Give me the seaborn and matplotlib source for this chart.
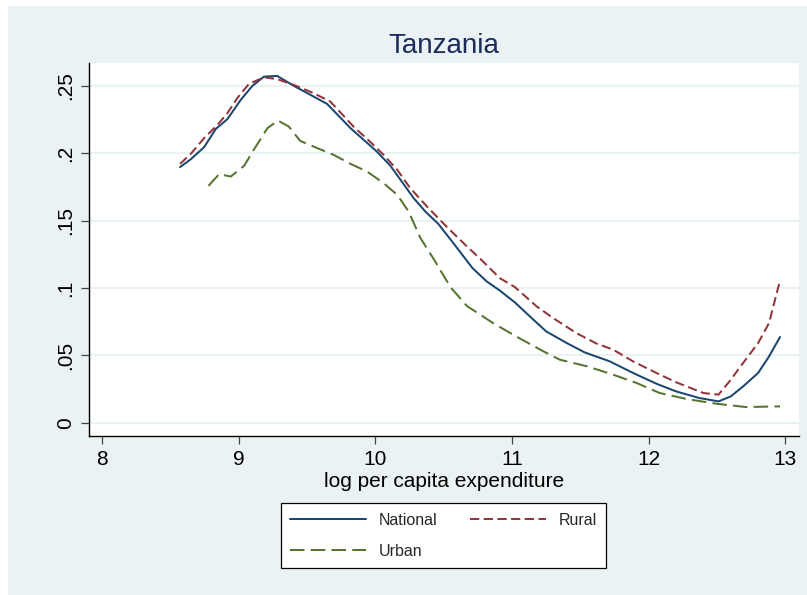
import matplotlib
matplotlib.use("Agg")
import matplotlib.pyplot as plt
from matplotlib.patches import Rectangle
import seaborn as sns
import pandas as pd

# ---- data ----
national_x = [8.571, 8.65, 8.747, 8.832, 8.917, 9.015, 9.10, 9.185, 9.282, 9.404, 9.526, 9.647,
              9.732, 9.818, 9.915, 10.01, 10.11, 10.21, 10.28, 10.365, 10.46, 10.57, 10.71,
              10.815, 10.91, 11.02, 11.13, 11.25, 11.40, 11.53, 11.715, 11.885, 12.056, 12.20,
              12.37, 12.51, 12.60, 12.69, 12.80, 12.88, 12.96]
national_y = [0.1897, 0.1956, 0.2045, 0.218, 0.2253, 0.2396, 0.25, 0.2569, 0.2574, 0.25, 0.2433,
              0.2366, 0.2277, 0.2186, 0.2099, 0.2013, 0.1907, 0.1766, 0.1667, 0.1568, 0.1476,
              0.1333, 0.1148, 0.1048, 0.0981, 0.0893, 0.0789, 0.0677, 0.0591, 0.0522, 0.0455,
              0.0369, 0.0289, 0.0232, 0.0183, 0.0158, 0.0195, 0.0269, 0.0369, 0.0492, 0.0636]

rural_x = [8.571, 8.65, 8.747, 8.845, 8.917, 8.99, 9.075, 9.185, 9.282, 9.404, 9.55, 9.67, 9.745,
           9.84, 9.96, 10.06, 10.16, 10.255, 10.377, 10.52, 10.67, 10.77, 10.91, 11.02, 11.18,
           11.30, 11.47, 11.62, 11.74, 11.885, 12.056, 12.20, 12.40, 12.51, 12.59, 12.69, 12.80,
           12.88, 12.96]
rural_y = [0.1921, 0.1996, 0.2112, 0.2211, 0.2297, 0.2409, 0.2515, 0.2564, 0.255, 0.2507, 0.2445,
           0.2384, 0.2302, 0.2198, 0.2087, 0.1988, 0.1877, 0.1741, 0.1605, 0.1456, 0.1308, 0.1214,
           0.1073, 0.1007, 0.0863, 0.0777, 0.0665, 0.0586, 0.0542, 0.0455, 0.0369, 0.030, 0.022,
           0.0208, 0.0306, 0.0443, 0.0591, 0.074, 0.1056]

urban_x = [8.779, 8.857, 8.942, 9.04, 9.11, 9.21, 9.287, 9.367, 9.45, 9.575, 9.695, 9.818, 9.94,
           10.06, 10.16, 10.243, 10.33, 10.43, 10.55, 10.67, 10.86, 11.03, 11.23, 11.35, 11.55,
           11.74, 11.91, 12.08, 12.275, 12.49, 12.71, 12.96]
urban_y = [0.1758, 0.1845, 0.1827, 0.1907, 0.2025, 0.2186, 0.2243, 0.2198, 0.2092, 0.2038, 0.1988,
           0.1921, 0.1864, 0.1778, 0.1691, 0.1568, 0.1370, 0.1209, 0.1005, 0.0866, 0.074, 0.064,
           0.0529, 0.0467, 0.0418, 0.0356, 0.0295, 0.022, 0.0176, 0.0141, 0.0116, 0.0121]

series_names = ["National", "Rural", "Urban"]
x_ticks = [8, 9, 10, 11, 12, 13]
y_ticks = [0, 0.05, 0.10, 0.15, 0.20, 0.25]
y_tick_labels = ["0", ".05", ".1", ".15", ".2", ".25"]
title_text = "Tanzania"
x_label = "log per capita expenditure"

df = pd.concat([
    pd.DataFrame({"x": national_x, "y": national_y, "group": "National"}),
    pd.DataFrame({"x": rural_x, "y": rural_y, "group": "Rural"}),
    pd.DataFrame({"x": urban_x, "y": urban_y, "group": "Urban"}),
], ignore_index=True)

# ---- style ----
sns.set_theme(style="white")
plt.rcParams["font.family"] = ["Liberation Sans", "DejaVu Sans"]

BG = "#EAF2F3"
colors = {"National": "#1A476F", "Rural": "#90353B", "Urban": "#55752F"}
dashes = {"National": "", "Rural": (4.6, 2.2), "Urban": (7.2, 3.1)}

W, H = 807, 595
fig = plt.figure(figsize=(W / 100, H / 100), dpi=100, facecolor="white")
fig.patches.append(Rectangle((8 / W, 0), 1 - 8 / W, (H - 6) / H, transform=fig.transFigure,
                             facecolor=BG, edgecolor="none", zorder=-10))

ax = fig.add_axes([89 / W, (H - 436) / H, 710 / W, 373 / H])
ax.set_facecolor("white")

sns.lineplot(data=df, x="x", y="y", hue="group", style="group", hue_order=series_names,
             style_order=series_names, palette=colors, dashes=dashes, linewidth=1.45,
             sort=True, estimator=None, ax=ax)

ax.set_xlim(7.905, 13.099)
ax.set_ylim(-0.0099, 0.267)
ax.set_xticks(x_ticks)
ax.set_xticklabels([str(t) for t in x_ticks])
ax.set_yticks(y_ticks)
ax.set_yticklabels(y_tick_labels, rotation=90, va="center")

for yt in y_ticks:
    ax.axhline(yt, color=BG, lw=1.6, zorder=0)

for s in ["top", "right"]:
    ax.spines[s].set_visible(False)
for s in ["left", "bottom"]:
    ax.spines[s].set_color("black")
    ax.spines[s].set_linewidth(1.0)

ax.tick_params(axis="both", direction="out", length=6, width=0.9, color="#444444",
               labelsize=15, labelcolor="black", pad=4, left=True, bottom=True)

ax.set_xlabel(x_label, fontsize=15, color="black", labelpad=2)
ax.set_ylabel("")
ax.set_title(title_text, fontsize=20, color="#1C2D5C", pad=7)

handles, labels = ax.get_legend_handles_labels()
hmap = dict(zip(labels, handles))
order = ["National", "Urban", "Rural"]
if ax.get_legend() is not None:
    ax.get_legend().remove()
leg = fig.legend([hmap[k] for k in order], order, loc="upper center",
                 bbox_to_anchor=(443.5 / W, 1 - 503 / H), ncol=2, fontsize=11.5,
                 frameon=True, fancybox=False, edgecolor="black", facecolor="white",
                 framealpha=1, handlelength=4.75, handletextpad=0.75, columnspacing=2.1,
                 borderpad=0.6, labelspacing=1.0, borderaxespad=0)
leg.get_frame().set_linewidth(0.9)

fig.savefig("out.png", dpi=100, facecolor=fig.get_facecolor())
